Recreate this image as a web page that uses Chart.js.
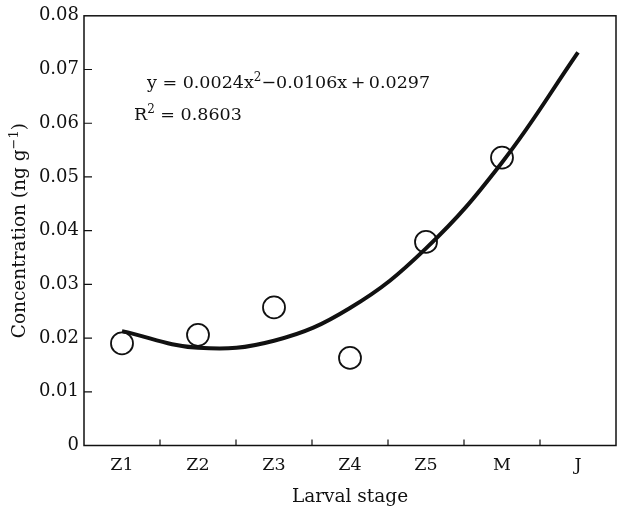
<!DOCTYPE html>
<html>
<head>
<meta charset="utf-8">
<script src="https://cdn.jsdelivr.net/npm/chart.js@4"></script>
<style>
  html, body { margin: 0; padding: 0; background: #fff; }
  #wrap { width: 624px; height: 511px; }
</style>
</head>
<body>
<div id="wrap"><canvas id="chart"></canvas></div>
<script>
const stages = ["Z1", "Z2", "Z3", "Z4", "Z5", "M", "J"];
const measured = [0.0190, 0.0206, 0.0257, 0.0163, 0.0379, 0.0536, null];
const fitted = [0.0213, 0.0182, 0.0195, 0.0256, 0.0367, 0.0527, 0.0732];
const yTicks = [0, 0.01, 0.02, 0.03, 0.04, 0.05, 0.06, 0.07, 0.08];

const FONT = "'DejaVu Serif', 'Liberation Serif', serif";
const INK = "#111";

// text with raised small pieces, returns the width drawn
function richText(ctx, parts, x, y, size) {
    let cx = x;
    parts.forEach(p => {
        const s = p.sup ? Math.round(size * 0.68) : size;
        ctx.font = s + "px " + FONT;
        ctx.fillText(p.t, cx, p.sup ? y - size * 0.4 : y);
        cx += ctx.measureText(p.t).width;
    });
    return cx - x;
}

// frame, inward ticks, y title and the fit text
const decor = {
    id: "decor",
    afterDatasetsDraw(chart) {
        const ctx = chart.ctx;
        const a = chart.chartArea;
        const x = chart.scales.x;
        const y = chart.scales.y;

        ctx.save();
        ctx.strokeStyle = INK;
        ctx.lineWidth = 1.5;
        ctx.strokeRect(a.left, a.top, a.right - a.left, a.bottom - a.top);

        ctx.lineWidth = 1.2;
        ctx.beginPath();
        yTicks.slice(1, -1).forEach(v => {
            const py = y.getPixelForValue(v);
            ctx.moveTo(a.left, py);
            ctx.lineTo(a.left + 8, py);
        });
        for (let i = 0; i < stages.length - 1; i++) {
            const px = (x.getPixelForValue(i) + x.getPixelForValue(i + 1)) / 2;
            ctx.moveTo(px, a.bottom);
            ctx.lineTo(px, a.bottom - 6);
        }
        ctx.stroke();

        ctx.fillStyle = INK;
        ctx.textBaseline = "alphabetic";
        const x0 = x.getPixelForValue(0);
        richText(ctx, [
            { t: "y = 0.0024x" }, { t: "2", sup: true },
            { t: "\u22120.0106x\u2009+\u20090.0297" }
        ], x0 + 25, y.getPixelForValue(0.0666), 17.5);
        richText(ctx, [
            { t: "R" }, { t: "2", sup: true }, { t: " = 0.8603" }
        ], x0 + 12, y.getPixelForValue(0.0606), 17.5);

        // y axis title, rotated
        const yTitle = [
            { t: "Concentration (ng g" }, { t: "\u22121", sup: true }, { t: ")" }
        ];
        ctx.save();
        ctx.translate(25, (a.top + a.bottom) / 2);
        ctx.rotate(-Math.PI / 2);
        ctx.globalAlpha = 0;
        const w = richText(ctx, yTitle, 0, 0, 18.5);
        ctx.globalAlpha = 1;
        richText(ctx, yTitle, -w / 2, 0, 18.5);
        ctx.restore();

        ctx.restore();
    }
};

new Chart(document.getElementById("chart"), {
    type: "line",
    data: {
        labels: stages,
        datasets: [
            {
                label: "Measured",
                data: measured,
                showLine: false,
                pointRadius: 11,
                pointHoverRadius: 11,
                pointBorderWidth: 1.8,
                pointBorderColor: INK,
                pointBackgroundColor: "rgba(255,255,255,0)",
                order: 2
            },
            {
                label: "Fit",
                data: fitted,
                borderColor: INK,
                borderWidth: 4,
                tension: 0.4,
                pointRadius: 0,
                fill: false,
                order: 1
            }
        ]
    },
    options: {
        responsive: true,
        maintainAspectRatio: false,
        animation: false,
        // the big circles made Chart.js pad the right edge by itself
        layout: { autoPadding: false, padding: { top: 15, right: 8, left: 0, bottom: 0 } },
        plugins: {
            legend: { display: false },
            tooltip: { enabled: false }
        },
        scales: {
            x: {
                offset: true,
                grid: {
                    display: true,
                    offset: true,
                    drawOnChartArea: false,
                    drawTicks: true,
                    tickLength: 9,
                    color: "rgba(0,0,0,0)"
                },
                border: { display: false },
                ticks: { color: INK, font: { family: FONT, size: 17.5 }, padding: 0 },
                title: {
                    display: true,
                    text: "Larval stage",
                    color: INK,
                    font: { family: FONT, size: 18.5 },
                    padding: { top: 8, bottom: 3 }
                },
                afterFit: s => { s.height = 65.5; }
            },
            y: {
                min: 0,
                max: 0.08,
                grid: { display: false, drawTicks: false },
                border: { display: false },
                ticks: {
                    stepSize: 0.01,
                    color: INK,
                    padding: 5,
                    font: { family: FONT, size: 18 },
                    callback: v => v === 0 ? "0" : v.toFixed(2)
                },
                title: { display: false },
                afterFit: s => { s.width = 84; }
            }
        }
    },
    plugins: [decor]
});
</script>
</body>
</html>
